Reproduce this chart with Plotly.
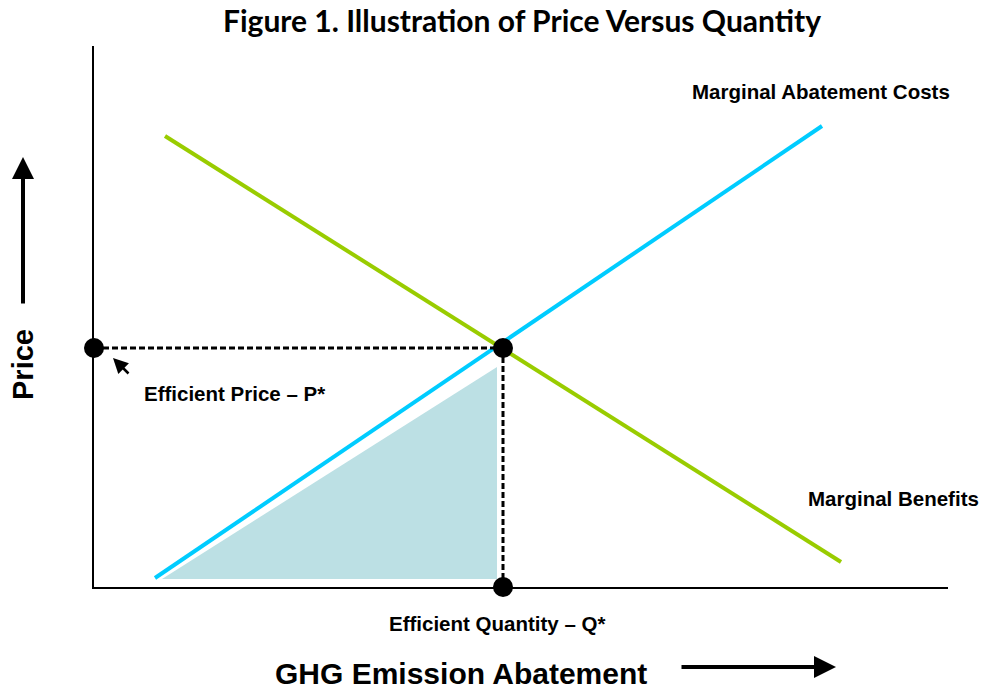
import plotly.graph_objects as go

# curves (units = pixels from the origin of the axes)
mac_x = [61, 728]
mac_y = [9, 461]
mb_x = [71, 747]
mb_y = [451, 25]

# shaded area under MAC up to Q*
area_x = [68, 403, 403, 68]
area_y = [8, 8, 220, 8]

# equilibrium
q_star = 409
p_star = 239

X_MAX, Y_MAX = 854, 541
FONT = "Arial, Liberation Sans, sans-serif"


def px(x):
    return x / X_MAX


def py(y):
    return y / Y_MAX


fig = go.Figure()

fig.add_trace(go.Scatter(
    x=area_x, y=area_y, mode="lines", fill="toself",
    fillcolor="#BCE0E4", line=dict(width=0), hoverinfo="skip"
))

fig.add_trace(go.Scatter(
    x=mb_x, y=mb_y, mode="lines",
    line=dict(color="#99CC00", width=4)
))
fig.add_trace(go.Scatter(
    x=mac_x, y=mac_y, mode="lines",
    line=dict(color="#00CCFF", width=4)
))

# dashed guides
fig.add_trace(go.Scatter(
    x=[0, q_star], y=[p_star, p_star], mode="lines",
    line=dict(color="black", width=3, dash="6px,3px")
))
fig.add_trace(go.Scatter(
    x=[q_star, q_star], y=[p_star, 0], mode="lines",
    line=dict(color="black", width=3, dash="6px,3px")
))

fig.add_trace(go.Scatter(
    x=[0, q_star, q_star], y=[p_star, p_star, 0], mode="markers",
    marker=dict(color="black", size=20), cliponaxis=False
))

ann = [
    dict(x=727, y=495, text="<b>Marginal Abatement Costs</b>", size=20.5),
    dict(x=799, y=88, text="<b>Marginal Benefits</b>", size=20.5),
    dict(x=140, y=194, text="<b>Efficient Price – P*</b>", size=20.5),
    dict(x=403, y=-36, text="<b>Efficient Quantity – Q*</b>", size=20.5),
    dict(x=367, y=-86, text="<b>GHG Emission Abatement</b>", size=30),
]
for a in ann:
    fig.add_annotation(x=px(a["x"]), y=py(a["y"]), xref="paper", yref="paper",
                       xanchor="center", yanchor="middle",
                       text=a["text"], showarrow=False,
                       font=dict(family=FONT, size=a["size"], color="black"))

fig.add_annotation(x=px(-71), y=py(222), xref="paper", yref="paper",
                   xanchor="center", yanchor="middle",
                   text="<b>Price</b>", textangle=-90, showarrow=False,
                   font=dict(family=FONT, size=29, color="black"))

# arrows: tail (x0, y0) -> head (x1, y1)
for (x0, y0, x1, y1, w) in [(-71, 282, -71, 430, 4), (586, -80, 742, -80, 4), (36, 212, 19, 229, 2.5)]:
    fig.add_annotation(x=px(x1), y=py(y1), xref="paper", yref="paper",
                       ax=x0 - x1, ay=y1 - y0,
                       text="", showarrow=True, arrowhead=2,
                       arrowsize=1.1 if w > 3 else 1.2,
                       arrowwidth=w, arrowcolor="black")

fig.update_layout(
    width=981, height=689,
    margin=dict(l=94, r=33, t=46, b=102),
    paper_bgcolor="white", plot_bgcolor="white",
    showlegend=False,
    title=dict(text="<b>Figure 1. Illustration of Price Versus Quantity</b>",
               x=522 / 981, xanchor="center", y=1 - 21 / 689, yanchor="middle",
               font=dict(family="Gill Sans, Lato, sans-serif", size=30, color="black")),
)
fig.update_xaxes(range=[0, X_MAX], showline=True, linecolor="black", linewidth=2,
                 showgrid=False, zeroline=False, showticklabels=False, ticks="")
fig.update_yaxes(range=[0, Y_MAX], showline=True, linecolor="black", linewidth=2,
                 showgrid=False, zeroline=False, showticklabels=False, ticks="")

# drop the default 8px page margin so the figure fills the window
fig.write_html("out.html", config={"displayModeBar": False},
               post_script="document.body.style.margin='0';")
